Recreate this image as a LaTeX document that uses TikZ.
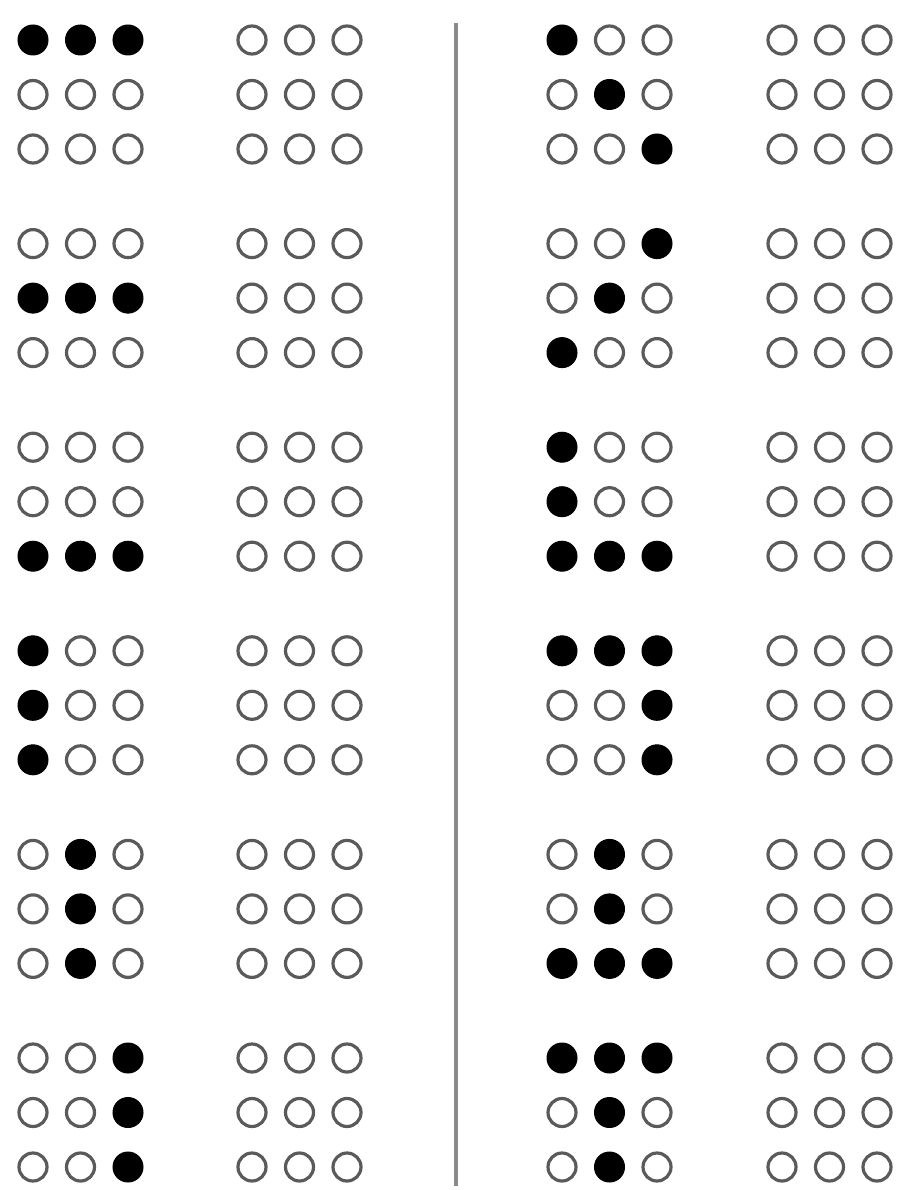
\documentclass[tikz,border=0pt]{standalone}
\usepackage{tikz}
\definecolor{RingGray}{HTML}{5A5A5A}
\definecolor{RuleGray}{HTML}{8A8A8A}

\begin{document}
\begin{tikzpicture}[x=1pt, y=-1pt,
        on/.style={circle, fill=black, draw=black, line width=1pt, minimum size=30pt, inner sep=0pt},
        off/.style={circle, fill=white, draw=RingGray, line width=3.2pt, minimum size=28pt, inner sep=0pt},
        divider/.style={draw=RuleGray, line width=3.5pt}
    ]
    \useasboundingbox (0,0) rectangle (900,1190);

    % Linke Muster
    \foreach \bits [count=\k] in {{1,1,1,0,0,0,0,0,0},{0,0,0,1,1,1,0,0,0},{0,0,0,0,0,0,1,1,1},
                                  {1,0,0,1,0,0,1,0,0},{0,1,0,0,1,0,0,1,0},{0,0,1,0,0,1,0,0,1}} {
        \foreach \b [count=\n from 0] in \bits {
            \pgfmathtruncatemacro\r{\n/3}
            \pgfmathtruncatemacro\c{mod(\n,3)}
            \pgfmathsetmacro\px{33+47.5*\c}
            \pgfmathsetmacro\py{40+203.6*(\k-1)+54.5*\r}
            \ifnum\b=1
                \node[on] (A\k-\r-\c) at (\px,\py) {};
            \else
                \node[off] (A\k-\r-\c) at (\px,\py) {};
            \fi
        }
    }

    % Rechte Muster
    \foreach \bits [count=\k] in {{1,0,0,0,1,0,0,0,1},{0,0,1,0,1,0,1,0,0},{1,0,0,1,0,0,1,1,1},
                                  {1,1,1,0,0,1,0,0,1},{0,1,0,0,1,0,1,1,1},{1,1,1,0,1,0,0,1,0}} {
        \foreach \b [count=\n from 0] in \bits {
            \pgfmathtruncatemacro\r{\n/3}
            \pgfmathtruncatemacro\c{mod(\n,3)}
            \pgfmathsetmacro\px{562+47.5*\c}
            \pgfmathsetmacro\py{40+203.6*(\k-1)+54.5*\r}
            \ifnum\b=1
                \node[on] (C\k-\r-\c) at (\px,\py) {};
            \else
                \node[off] (C\k-\r-\c) at (\px,\py) {};
            \fi
        }
    }

    % Leere Felder
    \foreach \k in {1,...,6}
        \foreach \r in {0,1,2}
            \foreach \c in {0,1,2} {
                \pgfmathsetmacro\py{40+203.6*(\k-1)+54.5*\r}
                \node[off] (B\k-\r-\c) at ({252+47.5*\c},\py) {};
                \node[off] (D\k-\r-\c) at ({782+47.5*\c},\py) {};
            }

    % Trennlinie
    \coordinate (divtop) at (456,23);
    \coordinate (divbot) at (456,1186);
    \draw[divider] (divtop) -- (divbot);

\end{tikzpicture}
\end{document}
